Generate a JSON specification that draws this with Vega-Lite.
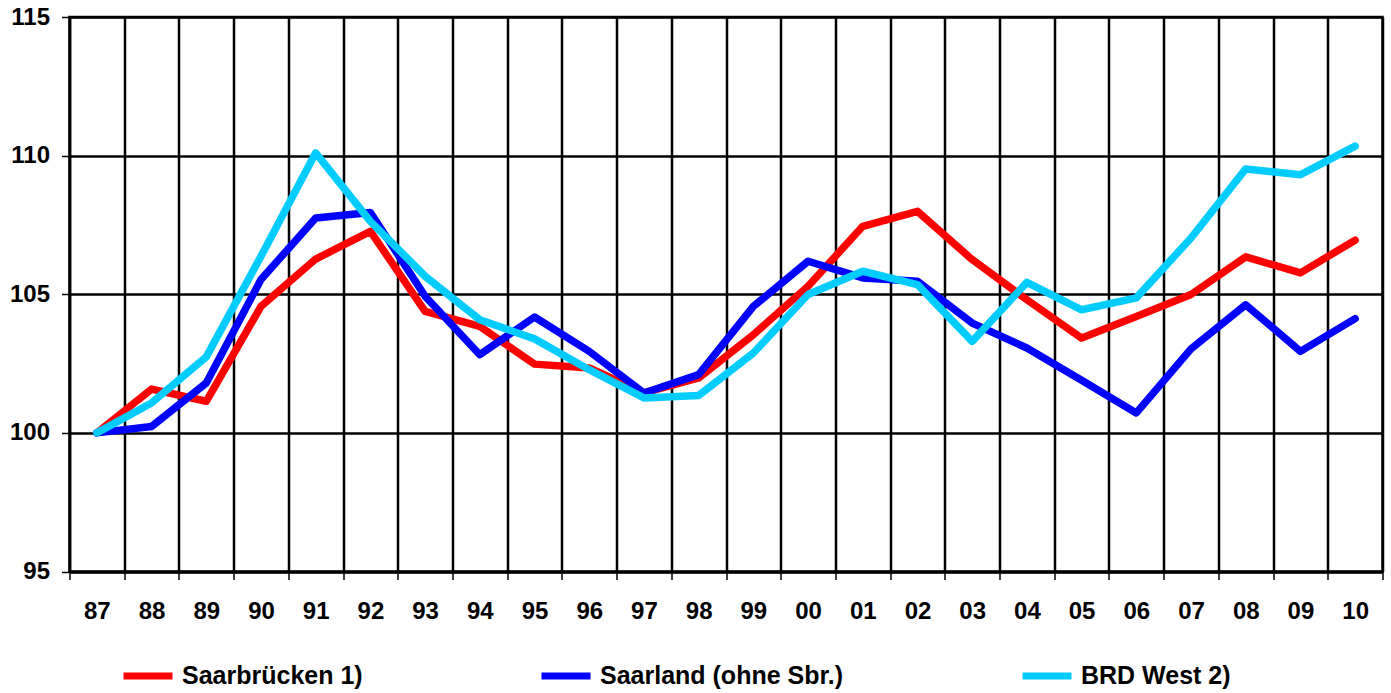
{
  "$schema": "https://vega.github.io/schema/vega-lite/v6.json",
  "width": 1313,
  "height": 554.5,
  "autosize": {"type": "none"},
  "padding": {"left": 69.5, "top": 17, "right": 8.5, "bottom": 121.5},
  "background": "white",
  "config": {
    "view": {"stroke": "black", "strokeWidth": 2.5},
    "font": "Liberation Sans"
  },
  "data": {
    "values": [
      {"year": "87", "series": "Saarbrücken 1)", "value": 100},
      {"year": "88", "series": "Saarbrücken 1)", "value": 101.58},
      {"year": "89", "series": "Saarbrücken 1)", "value": 101.14},
      {"year": "90", "series": "Saarbrücken 1)", "value": 104.56},
      {"year": "91", "series": "Saarbrücken 1)", "value": 106.27},
      {"year": "92", "series": "Saarbrücken 1)", "value": 107.27},
      {"year": "93", "series": "Saarbrücken 1)", "value": 104.38},
      {"year": "94", "series": "Saarbrücken 1)", "value": 103.84},
      {"year": "95", "series": "Saarbrücken 1)", "value": 102.48},
      {"year": "96", "series": "Saarbrücken 1)", "value": 102.34},
      {"year": "97", "series": "Saarbrücken 1)", "value": 101.44},
      {"year": "98", "series": "Saarbrücken 1)", "value": 101.98},
      {"year": "99", "series": "Saarbrücken 1)", "value": 103.54},
      {"year": "00", "series": "Saarbrücken 1)", "value": 105.29},
      {"year": "01", "series": "Saarbrücken 1)", "value": 107.45},
      {"year": "02", "series": "Saarbrücken 1)", "value": 107.99},
      {"year": "03", "series": "Saarbrücken 1)", "value": 106.25},
      {"year": "04", "series": "Saarbrücken 1)", "value": 104.8},
      {"year": "05", "series": "Saarbrücken 1)", "value": 103.42},
      {"year": "06", "series": "Saarbrücken 1)", "value": 104.2},
      {"year": "07", "series": "Saarbrücken 1)", "value": 104.99},
      {"year": "08", "series": "Saarbrücken 1)", "value": 106.35},
      {"year": "09", "series": "Saarbrücken 1)", "value": 105.77},
      {"year": "10", "series": "Saarbrücken 1)", "value": 106.95},
      {"year": "87", "series": "Saarland (ohne Sbr.)", "value": 100},
      {"year": "88", "series": "Saarland (ohne Sbr.)", "value": 100.23},
      {"year": "89", "series": "Saarland (ohne Sbr.)", "value": 101.8},
      {"year": "90", "series": "Saarland (ohne Sbr.)", "value": 105.53},
      {"year": "91", "series": "Saarland (ohne Sbr.)", "value": 107.75},
      {"year": "92", "series": "Saarland (ohne Sbr.)", "value": 107.95},
      {"year": "93", "series": "Saarland (ohne Sbr.)", "value": 104.93},
      {"year": "94", "series": "Saarland (ohne Sbr.)", "value": 102.82},
      {"year": "95", "series": "Saarland (ohne Sbr.)", "value": 104.18},
      {"year": "96", "series": "Saarland (ohne Sbr.)", "value": 102.94},
      {"year": "97", "series": "Saarland (ohne Sbr.)", "value": 101.44},
      {"year": "98", "series": "Saarland (ohne Sbr.)", "value": 102.1},
      {"year": "99", "series": "Saarland (ohne Sbr.)", "value": 104.56},
      {"year": "00", "series": "Saarland (ohne Sbr.)", "value": 106.19},
      {"year": "01", "series": "Saarland (ohne Sbr.)", "value": 105.59},
      {"year": "02", "series": "Saarland (ohne Sbr.)", "value": 105.47},
      {"year": "03", "series": "Saarland (ohne Sbr.)", "value": 103.96},
      {"year": "04", "series": "Saarland (ohne Sbr.)", "value": 103.06},
      {"year": "05", "series": "Saarland (ohne Sbr.)", "value": 101.9},
      {"year": "06", "series": "Saarland (ohne Sbr.)", "value": 100.72},
      {"year": "07", "series": "Saarland (ohne Sbr.)", "value": 103.03},
      {"year": "08", "series": "Saarland (ohne Sbr.)", "value": 104.62},
      {"year": "09", "series": "Saarland (ohne Sbr.)", "value": 102.94},
      {"year": "10", "series": "Saarland (ohne Sbr.)", "value": 104.12},
      {"year": "87", "series": "BRD West 2)", "value": 100},
      {"year": "88", "series": "BRD West 2)", "value": 101.08},
      {"year": "89", "series": "BRD West 2)", "value": 102.74},
      {"year": "90", "series": "BRD West 2)", "value": 106.37},
      {"year": "91", "series": "BRD West 2)", "value": 110.1},
      {"year": "92", "series": "BRD West 2)", "value": 107.63},
      {"year": "93", "series": "BRD West 2)", "value": 105.65},
      {"year": "94", "series": "BRD West 2)", "value": 104.08},
      {"year": "95", "series": "BRD West 2)", "value": 103.39},
      {"year": "96", "series": "BRD West 2)", "value": 102.28},
      {"year": "97", "series": "BRD West 2)", "value": 101.26},
      {"year": "98", "series": "BRD West 2)", "value": 101.35},
      {"year": "99", "series": "BRD West 2)", "value": 102.88},
      {"year": "00", "series": "BRD West 2)", "value": 104.99},
      {"year": "01", "series": "BRD West 2)", "value": 105.83},
      {"year": "02", "series": "BRD West 2)", "value": 105.35},
      {"year": "03", "series": "BRD West 2)", "value": 103.3},
      {"year": "04", "series": "BRD West 2)", "value": 105.43},
      {"year": "05", "series": "BRD West 2)", "value": 104.44},
      {"year": "06", "series": "BRD West 2)", "value": 104.87},
      {"year": "07", "series": "BRD West 2)", "value": 107.03},
      {"year": "08", "series": "BRD West 2)", "value": 109.52},
      {"year": "09", "series": "BRD West 2)", "value": 109.31},
      {"year": "10", "series": "BRD West 2)", "value": 110.34}
    ]
  },
  "mark": {"type": "line", "strokeWidth": 7.5, "strokeCap": "round", "strokeJoin": "round"},
  "encoding": {
    "x": {
      "field": "year",
      "type": "ordinal",
      "sort": ["87","88","89","90","91","92","93","94","95","96","97","98","99","00","01","02","03","04","05","06","07","08","09","10"],
      "scale": {"paddingInner": 0, "paddingOuter": 0},
      "axis": {
        "title": null,
        "labelAngle": 0,
        "tickBand": "extent",
        "grid": true,
        "gridColor": "black",
        "gridWidth": 2.5,
        "gridOpacity": 1,
        "domainColor": "black",
        "domainWidth": 2.5,
        "tickColor": "black",
        "tickWidth": 1.5,
        "tickSize": 8,
        "labelPadding": 20,
        "labelFont": "Liberation Sans",
        "labelFontSize": 24,
        "labelFontWeight": "bold",
        "labelColor": "black"
      }
    },
    "y": {
      "field": "value",
      "type": "quantitative",
      "scale": {"domain": [95, 115], "nice": false, "zero": false},
      "axis": {
        "title": null,
        "values": [95, 100, 105, 110, 115],
        "grid": true,
        "gridColor": "black",
        "gridWidth": 2.5,
        "gridOpacity": 1,
        "domainColor": "black",
        "domainWidth": 2.5,
        "tickColor": "black",
        "tickWidth": 1.5,
        "tickSize": 8,
        "labelPadding": 12,
        "labelFont": "Liberation Sans",
        "labelFontSize": 24,
        "labelFontWeight": "bold",
        "labelColor": "black"
      }
    },
    "color": {
      "field": "series",
      "type": "nominal",
      "sort": ["Saarbrücken 1)", "Saarland (ohne Sbr.)", "BRD West 2)"],
      "scale": {
        "domain": ["Saarbrücken 1)", "Saarland (ohne Sbr.)", "BRD West 2)"],
        "range": ["#FF0000", "#0000FF", "#00CCFF"]
      },
      "legend": {
        "title": null,
        "orient": "none",
        "direction": "horizontal",
        "legendX": 50.5,
        "legendY": 631,
        "columns": 3,
        "columnPadding": 164,
        "symbolType": "stroke",
        "symbolSize": 2401,
        "symbolStrokeWidth": 7,
        "labelOffset": 6,
        "labelFont": "Liberation Sans",
        "labelFontSize": 25,
        "labelFontWeight": "bold",
        "labelColor": "black",
        "labelLimit": 400
      }
    }
  }
}
